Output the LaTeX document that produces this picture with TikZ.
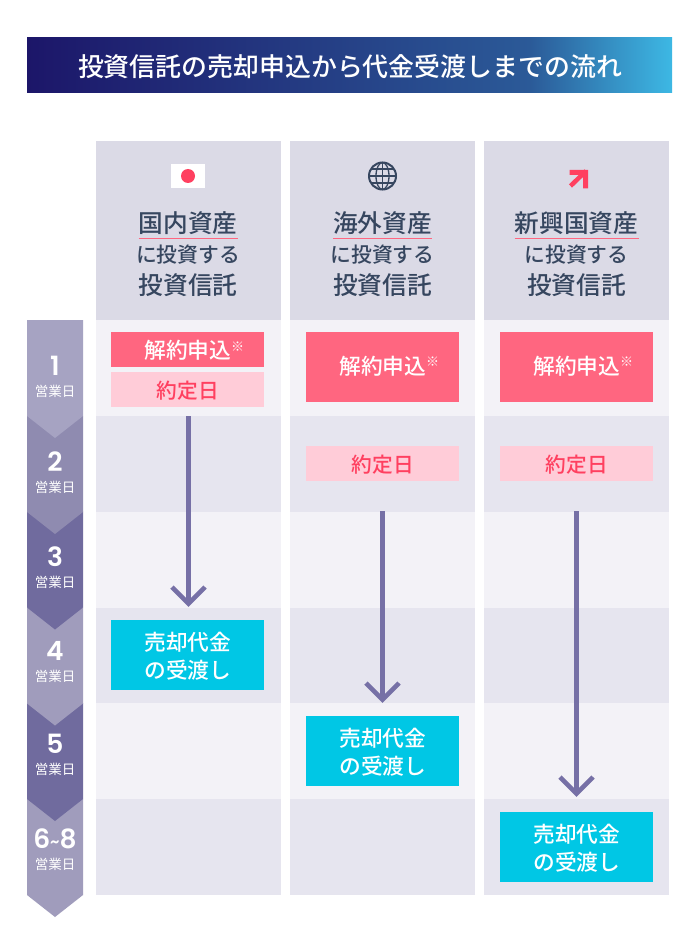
\documentclass[tikz,border=0pt]{standalone}
\usepackage{fontspec}
\setmainfont{Noto Sans CJK JP Medium}
\newfontfamily\thinfont{Noto Sans CJK JP}
\newfontfamily\numfont{Poppins SemiBold}
\usetikzlibrary{positioning}
\definecolor{headbg}{HTML}{DBDAE6}
\definecolor{rowodd}{HTML}{F3F2F7}
\definecolor{roweven}{HTML}{E6E5EF}
\definecolor{daylight}{HTML}{A6A3C2}
\definecolor{daysoft}{HTML}{8F8BB0}
\definecolor{daymid}{HTML}{A09CBC}
\definecolor{daydark}{HTML}{706B9E}
\definecolor{pinkbox}{HTML}{FF6680}
\definecolor{palebox}{HTML}{FFCCD8}
\definecolor{redtext}{HTML}{FF4060}
\definecolor{cyanbox}{HTML}{00C7E5}
\definecolor{inktext}{HTML}{36465F}
\definecolor{arrowcol}{HTML}{7670A6}
\definecolor{titlea}{HTML}{1C1669}
\definecolor{titleb}{HTML}{2B5A98}
\definecolor{titlec}{HTML}{3DB8E4}
\pgfdeclarehorizontalshading{titlebar}{100bp}{color(0bp)=(titlea); color(25bp)=(titlea); color(64bp)=(titleb); color(75bp)=(titlec); color(100bp)=(titlec)}
\tikzset{
	cellbox/.style={minimum width=153,minimum height=35,inner sep=0pt,align=center,text depth=0pt},
	cancelbox/.style={cellbox,fill=pinkbox,text=white,font=\fontsize{21.7}{24}\selectfont},
	tallbox/.style={cancelbox,minimum height=70,text depth=4pt},
	tradebox/.style={cellbox,fill=palebox,text=redtext,font=\fontsize{20.7}{24}\selectfont},
	paybox/.style={cellbox,minimum height=70,fill=cyanbox,text=white,font=\fontsize{21.7}{28}\selectfont},
	headtext/.style={text=inktext,font=\fontsize{24.7}{26}\selectfont,inner sep=0pt},
	subtext/.style={text=inktext,font=\fontsize{20.8}{23}\selectfont,inner sep=0pt},
	daynum/.style={text=white,font=\numfont\fontsize{26.5}{28}\selectfont,inner sep=0pt},
	daylabel/.style={text=white,font=\thinfont\fontsize{13.5}{16}\selectfont,inner sep=0pt},
	flow/.style={arrowcol,line width=4.6pt}
}
\newcommand{\notemark}{\rlap{\raisebox{7.5pt}{\thinfont\fontsize{13}{13}\selectfont ※}}}
\begin{document}
\begin{tikzpicture}[x=1pt,y=-1pt,line join=miter]
	\useasboundingbox (0,0) rectangle (700,941);
	\fill[white] (0,0) rectangle (700,941);
	% title
	\shade[shading=titlebar] (27,38) rectangle (672,93);
	\node[text=white,font=\fontsize{25.9}{28}\selectfont,inner sep=0pt] (title) at (350,66.5) {投資信託の売却申込から代金受渡しまでの流れ};
	% columns
	\foreach \cx in {96,290,484} {
		\fill[headbg] (\cx,141) rectangle +(185,179);
		\foreach \ry/\rc in {320/rowodd,416/roweven,511.5/rowodd,607.5/roweven,703/rowodd,799/roweven}
		\fill[\rc] (\cx,\ry) rectangle +(185,96);
	}
	% day markers, last one first
	\foreach \ty/\col in {799/daymid,703/daydark,607.5/daymid,511.5/daydark,416/daysoft,320/daylight}
	\fill[\col] (27,\ty) -- (83,\ty) -- (83,\ty+96) -- (55,\ty+118) -- (27,\ty+96) -- cycle;
	\foreach \ry/\nd in {366/1,462/2,557/3,651/4,744/5} {
		\node[daynum] (day\nd) at (55,\ry) {\nd};
		\node[daylabel,below=18.5pt of day\nd.center] (unit\nd) {営業日};
	}
	\node[daynum] (day6) at (55,839) {6\raisebox{1pt}{\fontsize{16}{16}\selectfont\textasciitilde}8};
	\node[daylabel,below=18.5pt of day6.center] (unit6) {営業日};
	% icons
	\fill[white] (171,164) rectangle (205,188);
	\fill[redtext] (188,176) circle (7);
	\begin{scope}[inktext,line width=1.3pt]
		\draw[line width=2pt] (382.5,176) circle (13.5);
		\draw (382.5,176) ellipse (6.5 and 13.5);
		\draw (382.5,162.5) -- (382.5,189.5);
		\draw (369,176) -- (396,176);
		\draw (371,169) -- (394,169);
		\draw (371,183) -- (394,183);
	\end{scope}
	\draw[redtext,line width=4.5pt] (570.5,186) -- (586,171);
	\fill[redtext] (569.5,170) -- (588,170) -- (588,188.5) -- (583,188.5) -- (583,175) -- (569.5,175) -- cycle;
	% head texts
	\foreach \cx/\nm/\hw/\cid in {188/国内資産/49.5/a,382.5/海外資産/49.5/b,576.5/新興国資産/62/c} {
		\node[headtext] (head\cid) at (\cx,223.5) {\nm};
		\draw[pinkbox,line width=1pt] (\cx-\hw,238.5) -- (\cx+\hw,238.5);
		\node[subtext] (sub\cid) at (\cx,255) {に投資する};
		\node[headtext] (fund\cid) at (\cx,285) {投資信託};
	}
	% column one
	\node[cancelbox,anchor=north west] (cancela) at (111,332) {解約申込\notemark};
	\node[tradebox,anchor=north west] (tradea) at (111,372) {約定日};
	\node[paybox,anchor=north west] (paya) at (111,620) {売却代金\\の受渡し};
	\coordinate (starta) at (188.5,416);
	\coordinate (enda) at (188.5,607);
	\draw[flow] (starta) -- ([yshift=4]enda);
	% column two
	\node[tallbox,anchor=north west] (cancelb) at (306,332) {解約申込\notemark};
	\node[tradebox,anchor=north west] (tradeb) at (306,446) {約定日};
	\node[paybox,anchor=north west] (payb) at (306,716) {売却代金\\の受渡し};
	\coordinate (startb) at (382.5,511);
	\coordinate (endb) at (382.5,703);
	\draw[flow] (startb) -- ([yshift=4]endb);
	% column three
	\node[tallbox,anchor=north west] (cancelc) at (500,332) {解約申込\notemark};
	\node[tradebox,anchor=north west] (tradec) at (500,446) {約定日};
	\node[paybox,anchor=north west] (payc) at (500,812) {売却代金\\の受渡し};
	\coordinate (startc) at (576.5,511);
	\coordinate (endc) at (576.5,797);
	\draw[flow] (startc) -- ([yshift=4]endc);
	% arrow heads
	\foreach \tip in {enda,endb,endc}
	\draw[flow] ([xshift=-16.5,yshift=20]\tip) -- ([yshift=3.3]\tip) -- ([xshift=16.5,yshift=20]\tip);
\end{tikzpicture}
\end{document}
